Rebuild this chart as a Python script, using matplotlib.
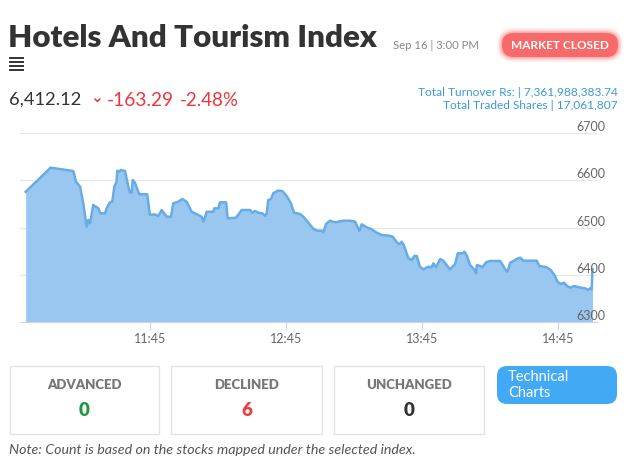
import matplotlib
matplotlib.use('Agg')
import matplotlib.pyplot as plt
from matplotlib.patches import FancyBboxPatch, Rectangle
from matplotlib.lines import Line2D
from matplotlib.transforms import IdentityTransform, blended_transform_factory

plt.rcParams['font.family'] = ['Lato', 'DejaVu Sans']

W, H = 630, 467

# index values during the day
times = ['10:50:00', '11:01:00', '11:11:00', '11:12:12', '11:14:00', '11:15:24', '11:16:54',
         '11:17:36', '11:18:24', '11:19:48', '11:22:00', '11:23:06', '11:25:00', '11:25:42',
         '11:27:12', '11:28:12', '11:29:06', '11:30:06', '11:30:24', '11:31:18', '11:32:00',
         '11:33:48', '11:35:18', '11:36:00', '11:36:48', '11:37:12', '11:38:12', '11:40:06',
         '11:43:36', '11:44:48', '11:47:00', '11:48:30', '11:50:00', '11:52:12', '11:54:06',
         '11:55:06', '11:57:18', '11:59:06', '12:01:00', '12:03:12', '12:06:06', '12:07:36',
         '12:08:24', '12:09:54', '12:12:48', '12:13:12', '12:15:00', '12:15:42', '12:18:24',
         '12:19:06', '12:22:48', '12:25:18', '12:29:00', '12:30:00', '12:31:12', '12:32:36',
         '12:34:24', '12:35:36', '12:36:18', '12:37:00', '12:38:12', '12:39:12', '12:41:12',
         '12:43:12', '12:45:06', '12:47:00', '12:48:24', '12:51:00', '12:52:30', '12:54:42',
         '12:56:54', '12:58:36', '13:00:36', '13:01:18', '13:02:30', '13:04:12', '13:06:30',
         '13:10:06', '13:13:06', '13:15:18', '13:17:12', '13:18:12', '13:20:24', '13:22:36',
         '13:24:48', '13:27:06', '13:30:24', '13:31:54', '13:33:54', '13:34:48', '13:35:54',
         '13:36:54', '13:38:48', '13:40:18', '13:41:24', '13:42:30', '13:43:54', '13:45:24',
         '13:47:36', '13:49:06', '13:49:48', '13:51:00', '13:52:48', '13:54:12', '13:57:12',
         '13:59:24', '14:00:36', '14:02:48', '14:03:30', '14:04:36', '14:06:00', '14:07:48',
         '14:08:42', '14:09:00', '14:10:30', '14:11:24', '14:13:06', '14:14:54', '14:19:18',
         '14:20:24', '14:21:24', '14:22:30', '14:23:42', '14:25:24', '14:26:36', '14:28:06',
         '14:29:30', '14:35:24', '14:36:36', '14:39:48', '14:41:36', '14:43:30', '14:44:30',
         '14:46:00', '14:47:30', '14:48:42', '14:50:12', '14:51:54', '14:53:06', '14:54:48',
         '14:56:48', '14:58:00', '14:59:00', '14:59:40', '15:00:00']
values = [6575.4, 6626.6, 6619.6, 6596.9, 6586.3, 6551.2, 6501.7,
          6515.9, 6508.9, 6547.6, 6540.6, 6530.0, 6530.0, 6540.6,
          6553.3, 6554.6, 6586.3, 6596.9, 6620.2, 6618.1, 6621.7,
          6619.6, 6586.3, 6573.7, 6573.7, 6600.5, 6594.8, 6570.3,
          6570.3, 6526.5, 6527.9, 6524.3, 6537.0, 6522.9, 6522.9,
          6551.2, 6554.6, 6560.3, 6554.6, 6533.4, 6526.5, 6522.9,
          6512.3, 6533.4, 6533.4, 6540.6, 6540.6, 6553.3, 6553.3,
          6519.5, 6520.7, 6537.0, 6537.0, 6531.3, 6534.9, 6531.3,
          6530.0, 6524.3, 6530.0, 6558.2, 6560.3, 6572.4, 6577.9,
          6577.2, 6566.7, 6551.2, 6531.3, 6528.6, 6522.9, 6510.2,
          6497.2, 6493.2, 6493.2, 6489.8, 6507.4, 6514.4, 6511.0,
          6514.4, 6514.4, 6512.3, 6492.6, 6506.8, 6500.4, 6496.2,
          6489.0, 6484.1, 6482.6, 6480.5, 6467.8, 6464.4, 6469.9,
          6461.5, 6434.8, 6431.2, 6439.7, 6439.7, 6417.0, 6411.5,
          6417.0, 6415.8, 6424.2, 6415.8, 6433.3, 6429.7, 6411.1,
          6422.8, 6445.4, 6445.4, 6448.8, 6440.3, 6420.6, 6411.5,
          6403.1, 6420.6, 6418.5, 6415.8, 6426.4, 6429.1, 6429.1,
          6420.6, 6412.2, 6406.5, 6425.5, 6429.7, 6433.3, 6436.1,
          6429.7, 6429.7, 6418.5, 6415.8, 6410.0, 6397.4, 6385.3,
          6380.4, 6383.2, 6376.2, 6372.6, 6376.2, 6374.7, 6372.6,
          6371.3, 6367.7, 6371.3, 6369.2, 6412.12]

xtick_labels = ['11:45', '12:45', '13:45', '14:45']
yticks = [6300, 6400, 6500, 6600, 6700]


def to_hours(t):
    parts = [int(p) for p in t.split(':')]
    while len(parts) < 3:
        parts.append(0)
    return parts[0] + parts[1] / 60 + parts[2] / 3600


def fx(x):
    return x / W


def fy(y):
    return 1 - y / H


hours = [to_hours(t) for t in times]

fig = plt.figure(figsize=(W / 100, H / 100), dpi=100)

# chart
ax = fig.add_axes([fx(20), fy(322), (597 - 20) / W, (322 - 133) / H])
ax.fill_between(hours, values, 6300, color='#99c7ef', lw=0)
ax.plot(hours, values, color='#67ace5', lw=1.8, solid_joinstyle='round')
ax.set_ylim(6300, 6700)
ax.set_xlim(to_hours('10:47:30'), to_hours('15:02:00'))
ax.set_yticks(yticks)
ax.set_xticks([to_hours(t) for t in xtick_labels])
ax.set_xticklabels(xtick_labels)
ax.grid(axis='y', color='#e6e6e6', lw=0.8)
ax.set_axisbelow(True)
for s in ['top', 'left', 'right']:
    ax.spines[s].set_visible(False)
ax.spines['bottom'].set_color('#ccd6eb')
ax.spines['bottom'].set_linewidth(0.8)
ax.tick_params(axis='y', left=False, labelleft=False)
ax.tick_params(axis='x', direction='out', length=6, width=0.8, color='#ccd6eb',
               labelcolor='#666666', labelsize=9, pad=2)
trans = blended_transform_factory(ax.transAxes, ax.transData)
for v in yticks:
    ax.text(1 + 8 / 577, v, str(v), transform=trans, ha='right', va='bottom',
            fontsize=9, color='#666666')

# header
fig.text(fx(8), fy(38), 'Hotels And Tourism Index', fontsize=22.5, fontweight='heavy',
         color='#333333', va='center', ha='left')
for yy in [58, 62, 66, 70]:
    fig.add_artist(Line2D([fx(10), fx(23)], [fy(yy), fy(yy)], color='#333333', lw=1.4))
fig.text(fx(393), fy(45), 'Sep 16 | 3:00 PM', fontsize=8.2, color='#888888', va='center')

pill = dict(transform=IdentityTransform())
for grow, alpha in [(5, 0.12), (3, 0.2), (1.5, 0.3)]:
    fig.add_artist(FancyBboxPatch((502 - grow, H - 57 - grow), 116 + 2 * grow, 24 + 2 * grow,
                                  boxstyle='round,pad=0,rounding_size=%g' % (12 + grow),
                                  fc='#f76a6a', ec='none', alpha=alpha, **pill))
fig.add_artist(FancyBboxPatch((502, H - 57), 116, 24, boxstyle='round,pad=0,rounding_size=12',
                              fc='#f76a6a', ec='none', **pill))
fig.text(fx(560), fy(45), 'MARKET CLOSED', fontsize=8.5, fontweight='bold', color='white',
         ha='center', va='center')

fig.text(fx(9), fy(100), '6,412.12', fontsize=13.2, color='#333333', va='center')
fig.text(fx(96), fy(98), '⌄', fontsize=11, color='#f0353b', va='center', ha='center',
         fontweight='bold', family=['DejaVu Sans'])
fig.text(fx(107), fy(100), '-163.29', fontsize=13.8, color='#f0353b', va='center')
fig.text(fx(180), fy(100), '-2.48%', fontsize=13.5, color='#f0353b', va='center')

fig.text(fx(618), fy(93), 'Total Turnover Rs: | 7,361,988,383.74', fontsize=8.6,
         color='#3a9ad9', ha='right', va='center')
fig.text(fx(618), fy(106), 'Total Traded Shares | 17,061,807', fontsize=8.6,
         color='#3a9ad9', ha='right', va='center')

# advance / decline boxes
box_names = ['ADVANCED', 'DECLINED', 'UNCHANGED']
box_counts = ['0', '6', '0']
box_colors = ['#1e9a3c', '#f03c3c', '#333333']
box_left = [10, 171, 334]
box_right = [159, 322, 484]
for name, cnt, col, x0, x1 in zip(box_names, box_counts, box_colors, box_left, box_right):
    fig.add_artist(Rectangle((fx(x0), fy(434)), (x1 - x0) / W, 68 / H, transform=fig.transFigure,
                             fc='white', ec='#e3e3e3', lw=1))
    xc = (x0 + x1) / 2
    fig.text(fx(xc), fy(385), name, fontsize=9.5, fontweight='heavy', color='#777777',
             ha='center', va='center')
    fig.text(fx(xc), fy(410), cnt, fontsize=13.5, fontweight='heavy', color=col,
             ha='center', va='center')

fig.add_artist(FancyBboxPatch((497, H - 404), 120, 38, boxstyle='round,pad=0,rounding_size=10',
                              fc='#42aaf5', ec='none', **pill))
fig.text(fx(508), fy(377), 'Technical', fontsize=10.5, color='white', va='center')
fig.text(fx(508), fy(393), 'Charts', fontsize=10.5, color='white', va='center')

fig.text(fx(9), fy(450), 'Note: Count is based on the stocks mapped under the selected index.',
         fontsize=10.3, style='italic', color='#555555', va='center')

fig.savefig('out.png', dpi=100)
